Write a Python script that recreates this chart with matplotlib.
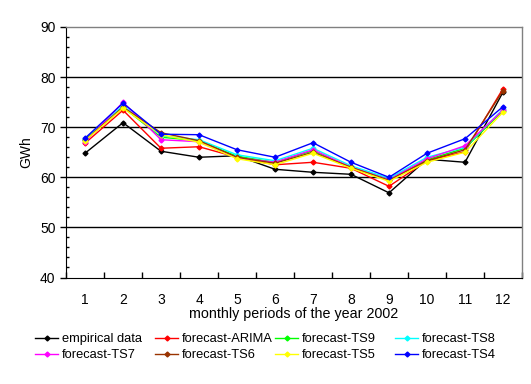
import matplotlib.pyplot as plt
import numpy as np

plt.rcParams['font.family'] = ['Liberation Sans', 'DejaVu Sans']

months = [1, 2, 3, 4, 5, 6, 7, 8, 9, 10, 11, 12]
empirical = [64.8, 70.9, 65.2, 64.0, 64.3, 61.6, 61.0, 60.6, 56.9, 63.6, 63.0, 77.0]
arima = [66.8, 73.4, 65.8, 66.1, 64.0, 62.5, 63.0, 61.8, 58.2, 63.3, 65.1, 77.7]
ts9 = [67.6, 74.0, 68.0, 67.3, 64.2, 63.0, 65.3, 62.0, 59.6, 63.5, 65.8, 73.3]
ts8 = [67.5, 74.3, 68.3, 67.5, 64.5, 63.3, 65.8, 62.3, 59.8, 64.0, 66.0, 73.6]
ts7 = [67.0, 75.0, 67.5, 67.1, 63.9, 63.0, 65.5, 62.0, 59.5, 63.7, 66.3, 73.4]
ts6 = [67.4, 74.0, 68.9, 67.3, 64.0, 62.8, 65.0, 62.0, 59.4, 63.3, 65.5, 77.3]
ts5 = [67.3, 73.8, 68.5, 67.0, 63.7, 62.5, 64.8, 61.8, 59.2, 63.0, 65.0, 73.0]
ts4 = [67.8, 74.8, 68.6, 68.5, 65.5, 64.0, 66.9, 63.0, 60.0, 64.8, 67.7, 74.1]

series = [
    ('empirical data', empirical, 'black'),
    ('forecast-ARIMA', arima, 'red'),
    ('forecast-TS9', ts9, '#00ff00'),
    ('forecast-TS8', ts8, '#00ffff'),
    ('forecast-TS7', ts7, '#ff00ff'),
    ('forecast-TS6', ts6, '#993300'),
    ('forecast-TS5', ts5, '#ffff00'),
    ('forecast-TS4', ts4, '#0000ff'),
]

fig = plt.figure(figsize=(5.31, 3.84), dpi=100)
ax = fig.add_axes([66/531, 1 - 277.5/384, (522-66)/531, (277.5-27)/384])

# gridlines
for yv in [50, 60, 70, 80]:
    ax.axhline(yv, color='black', linewidth=1, zorder=0)

# draw back to front so empirical/arima look like the reference
order = [6, 5, 2, 3, 4, 1, 0, 7]
lines = {}
for i in order:
    name, vals, col = series[i]
    ln, = ax.plot(months, vals, color=col, linewidth=1, marker='D', markersize=2.5,
                  label=name, zorder=2 + i)
    lines[name] = ln

ax.set_xlim(0.5, 12.5)
ax.set_ylim(40, 90)
ax.set_yticks([40, 50, 60, 70, 80, 90])
ax.set_yticks(np.arange(40, 91, 2), minor=True)
ax.tick_params(axis='y', which='major', direction='out', length=4, labelsize=10, width=1)
ax.tick_params(axis='y', which='minor', direction='in', length=2.5, width=1)

ax.set_xticks(months)
ax.set_xticklabels([str(m) for m in months])
ax.tick_params(axis='x', which='major', length=0, labelsize=10, pad=11)
ax.set_xticks(np.arange(0.5, 12.6, 1), minor=True)
ax.tick_params(axis='x', which='minor', direction='in', length=4, width=1)

for s in ['top', 'right']:
    ax.spines[s].set_color('gray')
    ax.spines[s].set_linestyle((0, (1, 1)))
    ax.spines[s].set_linewidth(1)
ax.spines['left'].set_color('black')
ax.spines['bottom'].set_color('black')

ax.set_xlabel('monthly periods of the year 2002', fontsize=10.3, labelpad=0)
ax.set_ylabel('GWh', fontsize=10, labelpad=5)

# legend: four columns, two rows
names = [s[0] for s in series]
col_x = [35, 155, 275, 395]
for c in range(4):
    pair = [names[c], names[c + 4]]
    fig.legend([lines[n] for n in pair], pair, loc='upper left',
               bbox_to_anchor=(col_x[c]/531, 1 - 333/384), frameon=False,
               fontsize=9.3, handlelength=1.8, handletextpad=0.3,
               labelspacing=0.32, borderpad=0, borderaxespad=0)

fig.savefig('out.png', dpi=100)
